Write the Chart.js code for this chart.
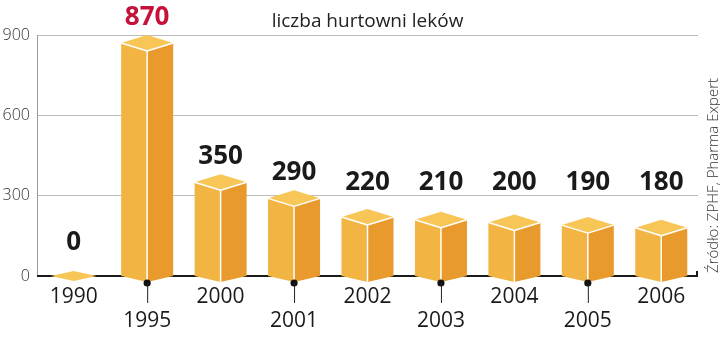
<!DOCTYPE html>
<html>
<head>
<meta charset="utf-8">
<script src="https://cdn.jsdelivr.net/npm/chart.js@4"></script>
<style>
html,body{margin:0;padding:0;background:#fff;}
#wrap{width:720px;height:342px;position:relative;}
</style>
</head>
<body>
<div id="wrap"><canvas id="c" width="720" height="342"></canvas></div>
<script>
const categories = ['1990','1995','2000','2001','2002','2003','2004','2005','2006'];
const values = [0, 870, 350, 290, 220, 210, 200, 190, 180];
const yTicks = [0, 300, 600, 900];
const titleText = 'liczba hurtowni leków';
const sourceText = 'Źródło: ZPHF, Pharma Expert';
const highlightIndex = 1;

const COL_TOP = '#F7C657', COL_LEFT = '#F2B443', COL_RIGHT = '#E99A2C';

const boxPlugin = {
  id: 'boxes',
  beforeDatasetsDraw(chart) {
    const ctx = chart.ctx, a = chart.chartArea;
    // baseline
    ctx.save();
    ctx.strokeStyle = '#1a1a1a';
    ctx.lineWidth = 2;
    ctx.beginPath();
    ctx.moveTo(a.left, a.bottom);
    ctx.lineTo(a.right - 1, a.bottom);
    ctx.lineTo(a.right - 1, a.bottom - 5);
    ctx.stroke();
    ctx.restore();
  },
  afterDatasetsDraw(chart) {
    const ctx = chart.ctx, a = chart.chartArea;
    const meta = chart.getDatasetMeta(0);
    const yScale = chart.scales.y;
    const yb = yScale.getPixelForValue(0);
    const hw = 26, dt = 8, db = 6;
    meta.data.forEach((el, i) => {
      const cx = el.x, yv = el.y;
      ctx.save();
      ctx.lineJoin = 'round';
      ctx.strokeStyle = '#ffffff';
      ctx.lineWidth = 1.5;
      if (values[i] > 0) {
        // left face
        ctx.fillStyle = COL_LEFT;
        ctx.beginPath();
        ctx.moveTo(cx - hw, yv); ctx.lineTo(cx, yv + dt);
        ctx.lineTo(cx, yb + db); ctx.lineTo(cx - hw, yb); ctx.closePath();
        ctx.fill();
        // right face
        ctx.fillStyle = COL_RIGHT;
        ctx.beginPath();
        ctx.moveTo(cx, yv + dt); ctx.lineTo(cx + hw, yv);
        ctx.lineTo(cx + hw, yb); ctx.lineTo(cx, yb + db); ctx.closePath();
        ctx.fill();
        // front edge
        ctx.beginPath();
        ctx.moveTo(cx, yv + dt); ctx.lineTo(cx, yb + db);
        ctx.stroke();
      }
      // top face
      ctx.fillStyle = COL_TOP;
      ctx.beginPath();
      const tdt = values[i] > 0 ? dt : 5;
      const thw = values[i] > 0 ? hw : 23;
      ctx.moveTo(cx - thw, yv); ctx.lineTo(cx, yv - tdt);
      ctx.lineTo(cx + thw, yv); ctx.lineTo(cx, yv + tdt); ctx.closePath();
      ctx.fill();
      if (values[i] > 0) {
        ctx.beginPath();
        ctx.moveTo(cx - hw, yv); ctx.lineTo(cx, yv + dt); ctx.lineTo(cx + hw, yv);
        ctx.stroke();
      }
      ctx.restore();

      // value label
      ctx.save();
      ctx.font = 'bold 26px "Open Sans", sans-serif';
      ctx.textAlign = 'center';
      ctx.textBaseline = 'alphabetic';
      ctx.fillStyle = i === highlightIndex ? '#C4123A' : '#1a1a1a';
      let base = yv - 18;
      if (values[i] > 0) base = Math.min(base, yScale.getPixelForValue(320));
      else base = yv - 26;
      ctx.fillText(String(values[i]), cx, base);
      ctx.restore();

      // category label
      ctx.save();
      ctx.font = '21px "Open Sans", sans-serif';
      ctx.textAlign = 'center';
      ctx.textBaseline = 'middle';
      ctx.fillStyle = '#1a1a1a';
      if (i % 2 === 0) {
        ctx.fillText(categories[i], cx, yb + 21);
      } else {
        ctx.fillStyle = '#111';
        ctx.beginPath();
        ctx.arc(cx, yb + db + 1, 3.6, 0, Math.PI * 2);
        ctx.fill();
        ctx.strokeStyle = '#222';
        ctx.lineWidth = 1;
        ctx.beginPath();
        ctx.moveTo(cx + 0.5, yb + db + 1); ctx.lineTo(cx + 0.5, yb + 27);
        ctx.stroke();
        ctx.fillStyle = '#1a1a1a';
        ctx.fillText(categories[i], cx, yb + 45);
      }
      ctx.restore();
    });

    // title
    ctx.save();
    ctx.font = '19px "Open Sans", sans-serif';
    ctx.textAlign = 'center';
    ctx.textBaseline = 'alphabetic';
    ctx.fillStyle = '#222';
    ctx.fillText(titleText, (a.left + a.right) / 2, 27);
    ctx.restore();

    // source (rotated)
    ctx.save();
    ctx.translate(714, a.bottom - 3);
    ctx.rotate(-Math.PI / 2);
    ctx.font = '300 15px "Open Sans", sans-serif';
    ctx.textAlign = 'left';
    ctx.textBaseline = 'middle';
    ctx.fillStyle = '#333';
    ctx.fillText(sourceText, 0, 0);
    ctx.restore();
  }
};

new Chart(document.getElementById('c'), {
  type: 'bar',
  data: {
    labels: categories,
    datasets: [{
      data: values,
      backgroundColor: 'rgba(0,0,0,0)',
      borderWidth: 0,
      barThickness: 52
    }]
  },
  options: {
    responsive: false,
    animation: false,
    events: [],
    layout: { padding: { top: 35, right: 22, bottom: 66, left: 0 } },
    plugins: { legend: { display: false }, tooltip: { enabled: false }, title: { display: false } },
    scales: {
      x: {
        display: true,
        grid: { display: false, drawTicks: false },
        border: { display: false },
        ticks: { display: false }
      },
      y: {
        min: 0, max: 900,
        afterBuildTicks(axis) { axis.ticks = yTicks.map(v => ({ value: v })); },
        afterFit(axis) { axis.width = 37; },
        grid: {
          color: (c) => c.tick && c.tick.value === 0 ? 'rgba(0,0,0,0)' : '#bcbcbc',
          lineWidth: 1,
          drawTicks: false
        },
        border: { display: true, color: '#9a9a9a', width: 1 },
        ticks: {
          padding: 7,
          color: '#333',
          font: { family: 'Open Sans', size: 16, weight: '300' },
          callback: (v) => String(v)
        }
      }
    }
  },
  plugins: [boxPlugin]
});
</script>
</body>
</html>
